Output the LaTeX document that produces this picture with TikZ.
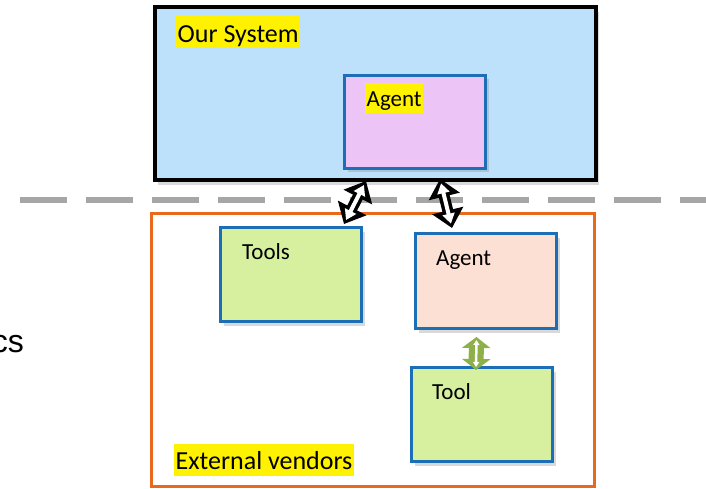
\documentclass[tikz,border=0pt]{standalone}
\usepackage{fontspec}
\setmainfont{Carlito}
\newfontfamily\arialfont{Liberation Sans}
\usetikzlibrary{arrows.meta,shadows}
\definecolor{skyfill}{HTML}{BDE1FB}
\definecolor{pinkfill}{HTML}{EDC4F6}
\definecolor{peachfill}{HTML}{FBE0D3}
\definecolor{limefill}{HTML}{D7F0A0}
\definecolor{boxblue}{HTML}{1C6FB6}
\definecolor{vendororange}{HTML}{E8691E}
\definecolor{sepgray}{HTML}{A6A6A6}
\definecolor{leafgreen}{HTML}{8DB04B}
\tikzset{
  box/.style={draw=boxblue, line width=3pt, fill=#1, anchor=north west,
    minimum width=141pt, minimum height=94pt, inner sep=0pt,
    drop shadow={shadow xshift=3pt, shadow yshift=-4pt, opacity=0.3}},
  boxtext/.style={anchor=base west, inner sep=0pt, font=\fontsize{23}{27}\selectfont},
  hl/.style={fill=yellow, anchor=base west, inner xsep=1.5pt, inner ysep=0pt},
  biarrow/.style={line width=11pt, {Triangle[length=18pt,width=31pt]}-{Triangle[length=18pt,width=31pt]},
    postaction={draw=white, line width=4pt, shorten <=4.5pt, shorten >=4.5pt,
      {Triangle[length=10pt,width=12pt]}-{Triangle[length=10pt,width=12pt]}}},
  greenarrow/.style={draw=leafgreen, line width=15pt, {Triangle[length=11pt,width=28pt]}-{Triangle[length=11pt,width=28pt]},
    postaction={draw=white, line width=2.5pt, shorten <=3pt, shorten >=3pt,
      {Triangle[length=5pt,width=6pt]}-{Triangle[length=5pt,width=6pt]}}}
}
\begin{document}
\begin{tikzpicture}[x=1pt,y=-1pt]
  \useasboundingbox (0,0) rectangle (706,489);
  % separator
  \draw [sepgray, line width=6pt, dash pattern=on 47pt off 19pt] (20,200) -- (706,200);
  % our side
  \node (sys) [draw=black, line width=4pt, fill=skyfill, anchor=north west, minimum width=441pt,
    minimum height=173pt, drop shadow={shadow xshift=3pt, shadow yshift=-5pt, opacity=0.3}] at (153,5) {};
  \node (agentA) [box=pinkfill, minimum height=93pt] at (343,74) {};
  % vendor side
  \node (vendor) [draw=vendororange, line width=3pt, anchor=north west, minimum width=443pt,
    minimum height=273pt] at (150,212) {};
  \node (tools) [box=limefill] at (219,226) {};
  \node (agentB) [box=peachfill, minimum height=95pt] at (414,232) {};
  \node (tool) [box=limefill] at (410,366) {};
  % labels
  \node (sysname) [hl, font=\fontsize{26}{30}\selectfont, text height=28pt, text depth=4pt] at (176,43) {Our System};
  \node (agentAname) [hl, font=\fontsize{23}{27}\selectfont, text height=24pt, text depth=6pt] at (365,107) {Agent};
  \node (toolsname) [boxtext] at (242,259) {Tools};
  \node (agentBname) [boxtext] at (436,265) {Agent};
  \node (toolname) [boxtext] at (432,399) {Tool};
  \node (vendorname) [hl, font=\fontsize{26}{30}\selectfont, text height=25pt, text depth=7pt] at (174,469) {External vendors};
  \node (cut) [anchor=base east, inner sep=0pt, font=\arialfont\fontsize{32}{36}\selectfont] at (24,352) {cs};
  % links
  \path (tools.north east |- sys.south) ++(3,-1) coordinate (up1);
  \path (agentA.south west |- sys.south) ++(97,-3) coordinate (up2);
  \draw [biarrow] (up1) -- ([shift={(-19,-2)}]tools.north east);
  \draw [biarrow] (up2) -- ([shift={(38,-4)}]agentB.north west);
  \draw [greenarrow] ([shift={(-9.5,7)}]agentB.south) -- ([shift={(-6,4)}]tool.north);
\end{tikzpicture}
\end{document}
